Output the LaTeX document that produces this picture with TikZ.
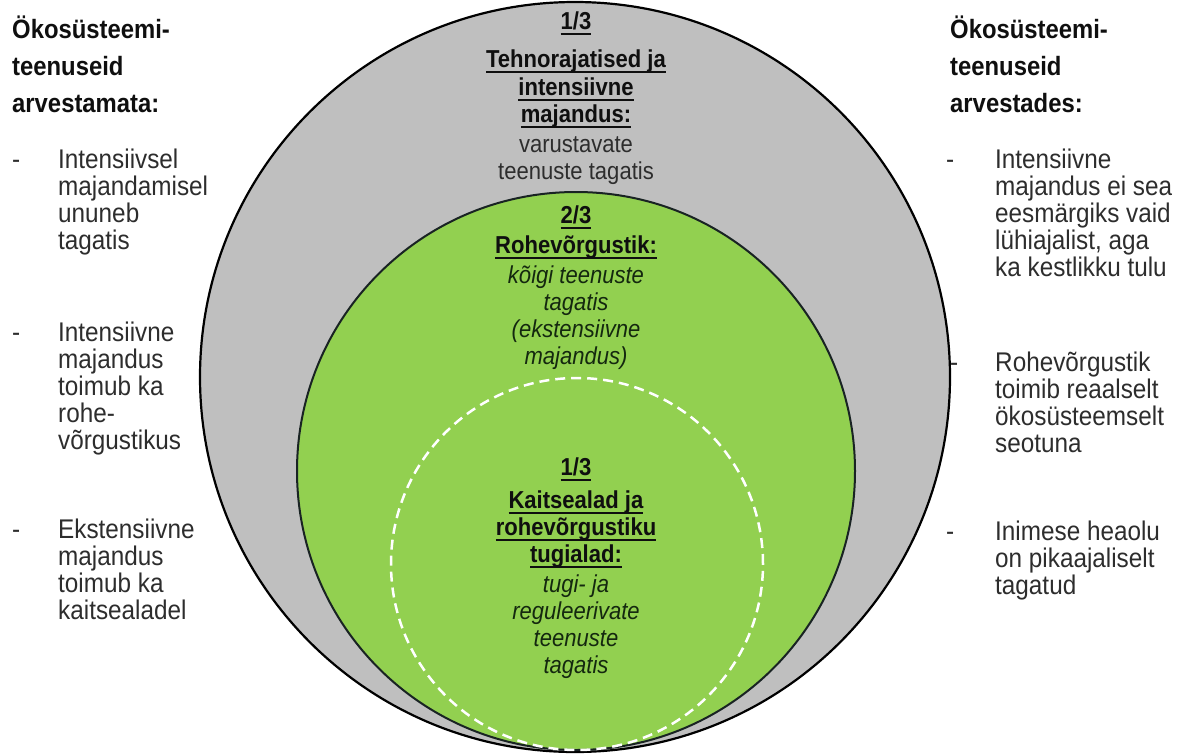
\documentclass[tikz,border=0pt]{standalone}
\usepackage{fontspec}
\setmainfont{Liberation Sans}[FakeStretch=0.9]
\definecolor{ggray}{RGB}{191,191,191}
\definecolor{ggreen}{RGB}{146,208,80}
\definecolor{gline}{RGB}{25,35,35}
\definecolor{bodytxt}{RGB}{45,45,45}
\definecolor{headtxt}{RGB}{15,15,15}
\definecolor{greentxt}{RGB}{20,40,15}
\newcommand{\myul}[1]{\setbox0=\hbox{#1}\rlap{\rule[-5.5pt]{\wd0}{1.4pt}}\box0}
\newcommand{\fl}[1]{\rule{0pt}{#1}}
\begin{document}
\begin{tikzpicture}[x=1pt,y=-1pt,
  headstyle/.style={anchor=north west, inner sep=0, align=left, text=headtxt, font={\fontsize{26.5}{37}\selectfont\bfseries\lineskiplimit=-100pt}},
  bodystyle/.style={anchor=north west, inner sep=0, align=left, text=bodytxt, font={\fontsize{27}{27}\selectfont\lineskiplimit=-100pt}},
  dashstyle/.style={anchor=north west, inner sep=0, text=bodytxt, font={\fontsize{27}{27}\selectfont}},
  circtext/.style={anchor=north, inner sep=0, align=center, font={\fontsize{24.5}{27}\selectfont\lineskiplimit=-100pt}},
]
\useasboundingbox (0,0) rectangle (1187,753);
% dash partly hidden by the outer circle
\node[dashstyle] (rdash2) at (950,345) {\fl{26pt}-};
% circles
\node[circle, draw=black, line width=2.2pt, fill=ggray, minimum size=750pt, inner sep=0] (outer) at (575,377) {};
\node[circle, draw=gline, line width=2pt, fill=ggreen, minimum size=558pt, inner sep=0] (middle) at (576,471) {};
\node[circle, draw=white, line width=2.5pt, dash pattern=on 10pt off 6pt, minimum size=372pt, inner sep=0] (inner) at (577,564) {};
% circle texts
\node[circtext, text=headtxt] (graytext) at (576,5) {\fl{24pt}\myul{\textbf{1/3}}\\[11pt]
 \myul{\textbf{Tehnorajatised ja}}\\[1pt] \myul{\textbf{intensiivne}}\\ \myul{\textbf{majandus:}}\\[3pt]
 \textcolor{bodytxt}{varustavate}\\ \textcolor{bodytxt}{teenuste tagatis}};
\node[circtext, text=headtxt] (greentext) at (576,199) {\fl{24pt}\myul{\textbf{2/3}}\\[3pt]
 \myul{\textbf{Rohevõrgustik:}}\\[3pt] \textcolor{greentxt}{\itshape kõigi teenuste}\\
 \textcolor{greentxt}{\itshape tagatis}\\ \textcolor{greentxt}{\itshape (ekstensiivne}\\ \textcolor{greentxt}{\itshape majandus)}};
\node[circtext, text=headtxt] (innertext) at (576,451) {\fl{24pt}\myul{\textbf{1/3}}\\[6pt]
 \myul{\textbf{Kaitsealad ja}}\\ \myul{\textbf{rohevõrgustiku}}\\ \myul{\textbf{tugialad:}}\\[3pt]
 \textcolor{greentxt}{\itshape tugi- ja}\\ \textcolor{greentxt}{\itshape reguleerivate}\\
 \textcolor{greentxt}{\itshape teenuste}\\ \textcolor{greentxt}{\itshape tagatis}};
% left column
\node[headstyle] (lhead) at (12,11) {\fl{27pt}Ökosüsteemi-\\ teenuseid\\ arvestamata:};
\node[dashstyle] (ldash1) at (12,142) {\fl{26pt}-};
\node[bodystyle] (ltext1) at (58,142) {\fl{26pt}Intensiivsel\\ majandamisel\\ ununeb\\ tagatis};
\node[dashstyle] (ldash2) at (12,315) {\fl{26pt}-};
\node[bodystyle] (ltext2) at (58,315) {\fl{26pt}Intensiivne\\ majandus\\ toimub ka\\ rohe-\\ võrgustikus};
\node[dashstyle] (ldash3) at (12,512) {\fl{26pt}-};
\node[bodystyle] (ltext3) at (58,512) {\fl{26pt}Ekstensiivne\\ majandus\\ toimub ka\\ kaitsealadel};
% right column
\node[headstyle] (rhead) at (950,11) {\fl{27pt}Ökosüsteemi-\\ teenuseid\\ arvestades:};
\node[dashstyle] (rdash1) at (946,142) {\fl{26pt}-};
\node[bodystyle] (rtext1) at (995,142) {\fl{26pt}Intensiivne\\ majandus ei sea\\ eesmärgiks vaid\\ lühiajalist, aga\\ ka kestlikku tulu};
\node[bodystyle] (rtext2) at (995,345) {\fl{26pt}Rohevõrgustik\\ toimib reaalselt\\ ökosüsteemselt\\ seotuna};
\node[dashstyle] (rdash3) at (946,514) {\fl{26pt}-};
\node[bodystyle] (rtext3) at (995,514) {\fl{26pt}Inimese heaolu\\ on pikaajaliselt\\ tagatud};
\end{tikzpicture}
\end{document}
